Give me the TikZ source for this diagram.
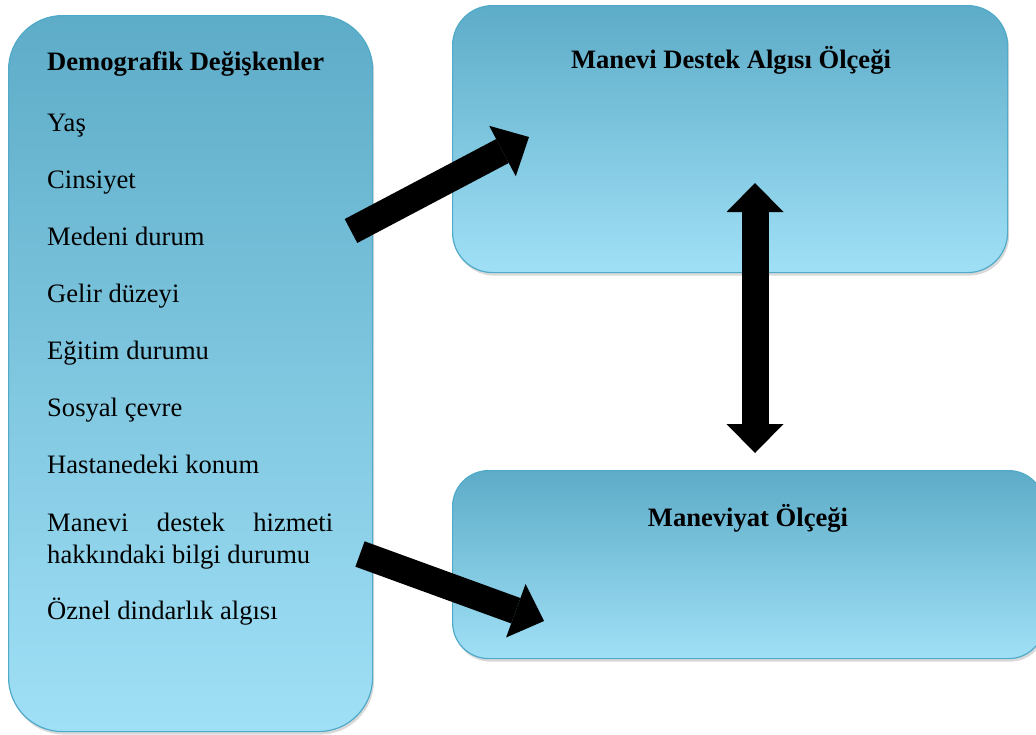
\documentclass[tikz,border=0pt]{standalone}
\usepackage{fontspec}
\setmainfont{Liberation Serif}
\usepackage{tikz}
\usetikzlibrary{arrows.meta,shadows}
\usepackage{xcolor}
\definecolor{boxtop}{RGB}{93,172,200}
\definecolor{boxbot}{RGB}{160,224,246}
\definecolor{boxline}{RGB}{80,170,200}
\tikzset{
  panel/.style={draw=boxline, line width=1.2pt, top color=boxtop, bottom color=boxbot,
    anchor=north west, inner sep=0pt,
    drop shadow={shadow xshift=1.5pt, shadow yshift=-3pt, opacity=0.3}},
  item/.style={anchor=base west, inner sep=0pt, font=\fontsize{26.6}{32}\selectfont},
  heading/.style={anchor=base, inner sep=0pt, font=\fontsize{26.6}{32}\selectfont\bfseries},
  blockarrow/.style={line width=27pt, -{Triangle[width=57pt,length=30pt,line width=0pt]}},
  dblockarrow/.style={line width=27pt, {Triangle[width=57pt,length=29pt,line width=0pt]}-{Triangle[width=57pt,length=29pt,line width=0pt]}}
}

\begin{document}
\begin{tikzpicture}[x=1pt,y=-1pt]
        \useasboundingbox (0,0) rectangle (1036,734);
        \node[panel, rounded corners=54pt, minimum width=364pt, minimum height=716pt] (demo) at (8,15) {};
        \node[panel, rounded corners=40pt, minimum width=555pt, minimum height=267pt] (manevi) at (452,5) {};
        \node[panel, rounded corners=36pt, minimum width=592pt, minimum height=188pt] (maneviyat) at (452,470) {};
        \node[heading, anchor=base west] (demohead) at (47,70) {Demografik Değişkenler};
        \foreach \y/\t [count=\i] in {131/Yaş, 188/Cinsiyet, 245/Medeni durum, 302/Gelir düzeyi,
          359/Eğitim durumu, 416/Sosyal çevre, 473/Hastanedeki konum,
          531/{\makebox[286pt][s]{Manevi destek hizmeti}}, 563/hakkındaki bilgi durumu,
          619/Öznel dindarlık algısı}{
        \node[item] (var\i) at (47,\y) {\t};}
        \node[heading] (manevihead) at (731,68) {Manevi Destek Algısı Ölçeği};
        \node[heading] (maneviyathead) at (748,526) {Maneviyat Ölçeği};
        \coordinate (toptail) at (351,231);
        \coordinate (toptip) at (529,137);
        \coordinate (lowtail) at (360,554);
        \coordinate (lowtip) at (544,621);
        \coordinate (uptip) at (755,183);
        \coordinate (downtip) at (755,453);
        \draw[blockarrow] (toptail) -- (toptip);
        \draw[blockarrow] (lowtail) -- (lowtip);
        \draw[dblockarrow] (uptip) -- (downtip);
    \end{tikzpicture}
\end{document}
